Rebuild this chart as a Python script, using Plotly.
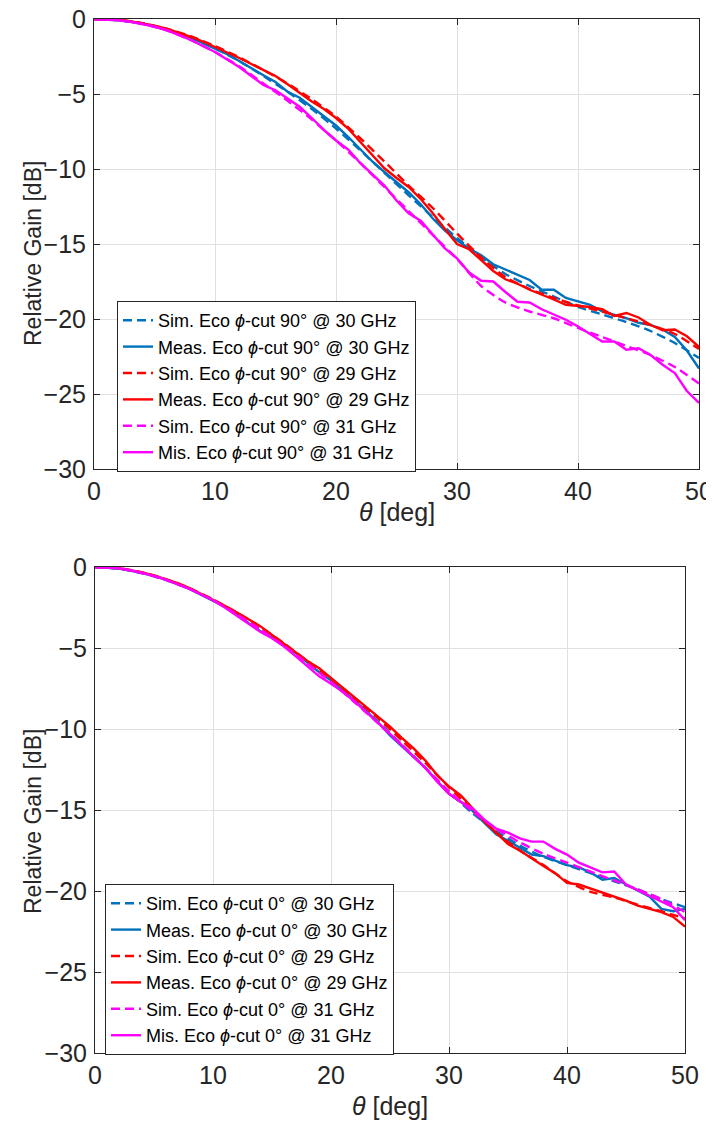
import plotly.graph_objects as go

# ---------------- data ----------------
theta_meas = list(range(0, 51))
theta_sim = list(range(0, 51, 2))

# Top: phi-cut 90 deg
top_meas_30 = [0, -0.02, -0.08, -0.18, -0.3, -0.5, -0.7, -0.95, -1.25, -1.6, -1.95, -2.35, -2.8, -3.3, -3.75,
               -4.2, -4.85, -5.25, -5.85, -6.45, -7.1, -7.85, -8.7, -9.5, -10.2, -10.85, -11.55, -12.35, -13.3,
               -14.1, -14.75, -15.3, -15.75, -16.35, -16.7, -17.0, -17.4, -18.05, -18.05, -18.6, -18.85, -19.05,
               -19.5, -19.7, -19.95, -20.25, -20.4, -20.7, -21.2, -22.1, -23.3]
top_meas_29 = [0, 0, -0.05, -0.15, -0.28, -0.45, -0.65, -0.9, -1.2, -1.5, -1.85, -2.2, -2.6, -3.0, -3.4,
               -3.8, -4.35, -4.95, -5.5, -6.0, -6.6, -7.3, -8.2, -9.1, -9.95, -10.6, -11.2, -12.0, -12.95,
               -14.0, -15.0, -15.35, -16.05, -16.8, -17.35, -17.65, -18.05, -18.35, -18.7, -19.05, -19.1, -19.2,
               -19.35, -19.8, -19.6, -19.9, -20.4, -20.75, -20.7, -21.15, -21.85]
top_meas_31 = [0, -0.02, -0.08, -0.18, -0.32, -0.5, -0.75, -1.05, -1.4, -1.8, -2.2, -2.7, -3.2, -3.8, -4.4,
               -4.75, -5.3, -5.85, -6.6, -7.4, -8.1, -8.7, -9.6, -10.35, -11.1, -12.1, -12.95, -13.45, -14.4,
               -15.3, -15.95, -16.9, -17.45, -17.5, -18.2, -18.85, -18.9, -19.35, -19.7, -20.05, -20.5, -21.0,
               -21.5, -21.5, -22.05, -21.95, -22.4, -23.05, -23.6, -24.8, -25.6]
top_sim_30 = [0, -0.08, -0.3, -0.7, -1.25, -1.95, -2.8, -3.8, -4.85, -6.0, -7.3, -8.75, -10.25, -11.75, -13.2,
              -14.6, -15.9, -17.0, -17.8, -18.5, -19.2, -19.7, -20.2, -20.8, -21.6, -22.6]
top_sim_29 = [0, -0.05, -0.28, -0.65, -1.15, -1.8, -2.55, -3.4, -4.3, -5.35, -6.5, -7.95, -9.5, -11.1, -12.6,
              -14.3, -15.9, -17.2, -18.0, -18.6, -19.1, -19.5, -19.95, -20.4, -21.0, -22.0]
top_sim_31 = [0, -0.08, -0.32, -0.75, -1.4, -2.2, -3.15, -4.3, -5.45, -6.7, -8.1, -9.6, -11.2, -12.8, -14.4,
              -16.0, -17.8, -18.9, -19.5, -19.95, -20.6, -21.2, -21.8, -22.4, -23.2, -24.3]

# Bottom: phi-cut 0 deg
bot_meas_30 = [0, -0.03, -0.1, -0.22, -0.38, -0.55, -0.8, -1.05, -1.35, -1.7, -2.05, -2.45, -2.85, -3.45, -3.95,
               -4.35, -4.85, -5.3, -5.9, -6.5, -7.0, -7.6, -8.25, -8.9, -9.6, -10.4, -11.05, -11.75, -12.4,
               -13.2, -14.0, -14.5, -15.05, -15.8, -16.5, -16.9, -17.3, -17.75, -17.85, -18.15, -18.4, -18.55,
               -18.85, -19.3, -19.2, -19.6, -19.95, -20.35, -21.1, -21.25, -21.1]
bot_meas_29 = [0, 0, -0.07, -0.18, -0.33, -0.52, -0.75, -1.0, -1.3, -1.65, -2.0, -2.4, -2.8, -3.2, -3.65,
               -4.2, -4.75, -5.3, -5.8, -6.25, -6.85, -7.45, -8.0, -8.6, -9.2, -9.85, -10.55, -11.2, -11.95,
               -12.85, -13.55, -14.1, -14.9, -15.7, -16.4, -17.1, -17.5, -18.0, -18.45, -18.9, -19.5, -19.6,
               -19.85, -20.1, -20.35, -20.6, -20.9, -21.1, -21.3, -21.6, -22.2]
bot_meas_31 = [0, -0.02, -0.08, -0.2, -0.36, -0.55, -0.78, -1.05, -1.35, -1.7, -2.05, -2.5, -3.0, -3.55, -4.0,
               -4.4, -4.9, -5.5, -6.15, -6.75, -7.2, -7.7, -8.3, -8.95, -9.6, -10.3, -11.0, -11.7, -12.4,
               -13.25, -14.0, -14.5, -14.9, -15.6, -16.15, -16.4, -16.75, -16.95, -16.95, -17.4, -17.75, -18.25,
               -18.55, -18.85, -18.8, -19.6, -19.95, -20.3, -20.65, -21.0, -21.8]
bot_sim_30 = [0, -0.1, -0.38, -0.8, -1.35, -2.05, -2.85, -3.8, -4.8, -5.9, -7.0, -8.25, -9.55, -10.95, -12.4,
              -13.9, -15.2, -16.3, -17.2, -17.9, -18.4, -18.9, -19.4, -19.9, -20.5, -21.0]
bot_sim_29 = [0, -0.07, -0.33, -0.75, -1.3, -2.0, -2.8, -3.7, -4.7, -5.8, -6.9, -8.1, -9.35, -10.7, -12.1,
              -13.6, -15.0, -16.4, -17.5, -18.4, -19.4, -20.05, -20.4, -20.85, -21.25, -21.7]
bot_sim_31 = [0, -0.09, -0.37, -0.8, -1.35, -2.05, -2.9, -3.85, -4.85, -5.95, -7.1, -8.35, -9.65, -11.0, -12.4,
              -13.85, -15.1, -16.15, -17.0, -17.7, -18.25, -18.8, -19.35, -19.9, -20.5, -21.3]

x_ticks = [0, 10, 20, 30, 40, 50]
y_ticks = [0, -5, -10, -15, -20, -25, -30]

# ---------------- styling ----------------
BLUE = "#0072BD"
RED = "#FF0000"
MAG = "#FF00FF"
AXC = "#262626"
FONT = "Liberation Sans, Arial, Helvetica, sans-serif"
LW = 2.4
DASH = "9px,5px"

W, H = 714, 1133
OFF = 8  # page body margin: reference coordinates are measured on screen

fig = go.Figure()

def add(x, y, name, color, dash, xa, ya, leg, shape="linear"):
    fig.add_trace(go.Scatter(
        x=x, y=y, name=name, mode="lines",
        line=dict(color=color, width=LW, dash=dash, shape=shape, smoothing=0.6),
        xaxis=xa, yaxis=ya, legend=leg, showlegend=True))

top_series = [
    (theta_sim, top_sim_30, "Sim. Eco <i>ϕ</i>-cut 90° @ 30 GHz", BLUE, DASH, "spline"),
    (theta_meas, top_meas_30, "Meas. Eco <i>ϕ</i>-cut 90° @ 30 GHz", BLUE, "solid", "linear"),
    (theta_sim, top_sim_29, "Sim. Eco <i>ϕ</i>-cut 90° @ 29 GHz", RED, DASH, "spline"),
    (theta_meas, top_meas_29, "Meas. Eco <i>ϕ</i>-cut 90° @ 29 GHz", RED, "solid", "linear"),
    (theta_sim, top_sim_31, "Sim. Eco <i>ϕ</i>-cut 90° @ 31 GHz", MAG, DASH, "spline"),
    (theta_meas, top_meas_31, "Mis. Eco <i>ϕ</i>-cut 90° @ 31 GHz", MAG, "solid", "linear"),
]
bot_series = [
    (theta_sim, bot_sim_30, "Sim. Eco <i>ϕ</i>-cut 0° @ 30 GHz", BLUE, DASH, "spline"),
    (theta_meas, bot_meas_30, "Meas. Eco <i>ϕ</i>-cut 0° @ 30 GHz", BLUE, "solid", "linear"),
    (theta_sim, bot_sim_29, "Sim. Eco <i>ϕ</i>-cut 0° @ 29 GHz", RED, DASH, "spline"),
    (theta_meas, bot_meas_29, "Meas. Eco <i>ϕ</i>-cut 0° @ 29 GHz", RED, "solid", "linear"),
    (theta_sim, bot_sim_31, "Sim. Eco <i>ϕ</i>-cut 0° @ 31 GHz", MAG, DASH, "spline"),
    (theta_meas, bot_meas_31, "Mis. Eco <i>ϕ</i>-cut 0° @ 31 GHz", MAG, "solid", "linear"),
]
for x, y, n, c, d, s in top_series:
    add(x, y, n, c, d, "x", "y", "legend", s)
for x, y, n, c, d, s in bot_series:
    add(x, y, n, c, d, "x2", "y2", "legend2", s)

axis_common = dict(
    showline=True, linecolor=AXC, linewidth=1, mirror="ticks",
    ticks="inside", ticklen=6, tickcolor=AXC, tickwidth=1,
    showgrid=True, gridcolor="#e0e0e0", gridwidth=1, zeroline=False,
    tickfont=dict(size=25, color=AXC, family=FONT), automargin=False,
    ticklabeloverflow="allow",
)

def px_x(p):
    return (p - OFF) / W

def px_y(p):
    return (H - (p - OFF)) / H

fig.update_layout(
    width=W, height=H,
    margin=dict(l=0, r=0, t=0, b=0),
    paper_bgcolor="white", plot_bgcolor="white",
    font=dict(family=FONT, color=AXC),
    xaxis=dict(domain=[px_x(94), px_x(699)], range=[0, 50], tickvals=x_ticks, anchor="y", **axis_common),
    yaxis=dict(domain=[px_y(469), px_y(19)], range=[-30, 0], tickvals=y_ticks, anchor="x",
               ticklabelstandoff=2, **axis_common),
    xaxis2=dict(domain=[px_x(95), px_x(685)], range=[0, 50], tickvals=x_ticks, anchor="y2", **axis_common),
    yaxis2=dict(domain=[px_y(1053), px_y(567)], range=[-30, 0], tickvals=y_ticks, anchor="x2",
                ticklabelstandoff=2, **axis_common),
    legend=dict(x=px_x(117), y=px_y(472), xanchor="left", yanchor="bottom",
                bordercolor=AXC, borderwidth=1, bgcolor="white",
                font=dict(size=18, color="black", family=FONT), tracegroupgap=0),
    legend2=dict(x=px_x(105), y=px_y(1055), xanchor="left", yanchor="bottom",
                 bordercolor=AXC, borderwidth=1, bgcolor="white",
                 font=dict(size=18, color="black", family=FONT), tracegroupgap=0),
    showlegend=True,
)

ytitle_font = dict(size=23, color=AXC, family=FONT)
xtitle_font = dict(size=25, color=AXC, family=FONT)
annots = [
    dict(text="Relative Gain [dB]", x=px_x(33), y=px_y(254), textangle=-90, font=ytitle_font),
    dict(text="<i>θ</i> [deg]", x=px_x(397), y=px_y(512), textangle=0, font=xtitle_font),
    dict(text="Relative Gain [dB]", x=px_x(33), y=px_y(822), textangle=-90, font=ytitle_font),
    dict(text="<i>θ</i> [deg]", x=px_x(390), y=px_y(1106), textangle=0, font=xtitle_font),
]
for a in annots:
    fig.add_annotation(xref="paper", yref="paper", showarrow=False,
                       xanchor="center", yanchor="middle", **a)

fig.write_html("out.html")
